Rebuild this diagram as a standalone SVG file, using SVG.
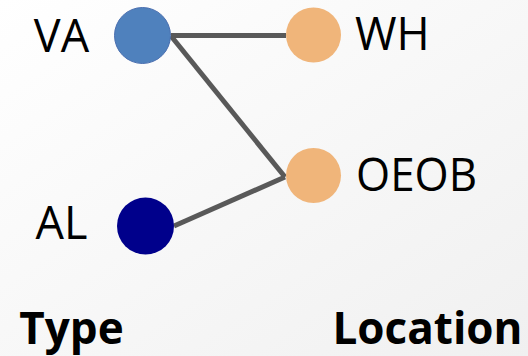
<svg xmlns="http://www.w3.org/2000/svg" width="528" height="356" viewBox="0 0 528 356">
  <defs>
    <linearGradient id="bg" x1="0" y1="0" x2="1" y2="1">
      <stop offset="0" stop-color="#ffffff"/>
      <stop offset="1" stop-color="#f0f0f0"/>
    </linearGradient>
    <style>
      .edge { stroke: #595959; stroke-width: 5; fill: none; stroke-linecap: butt; }
      .label { font-family: "Open Sans", "Liberation Sans", sans-serif; font-size: 45px; fill: #000; }
      .title { font-family: "Open Sans", "Liberation Sans", sans-serif; font-size: 44px; font-weight: bold; fill: #000; }
      .type { fill: #4f81bd; stroke: #4a6fb0; stroke-width: 1; }
      .type2 { fill: #00008b; }
      .loc { fill: #f0b57a; }
    </style>
  </defs>
  <rect width="528" height="356" fill="url(#bg)"/>

  <!-- links between types and locations -->
  <g id="connectors">
    <line class="edge" x1="171" y1="35.5" x2="286" y2="35.5"/>
    <line class="edge" x1="171" y1="36" x2="285" y2="177"/>
    <line class="edge" x1="174" y1="226" x2="285" y2="177"/>
  </g>

  <g id="node-va">
    <circle class="type" cx="142.5" cy="35.5" r="28"/>
    <text class="label" x="61.5" y="52" text-anchor="middle">VA</text>
  </g>
  <g id="node-al">
    <circle class="type2" cx="145.5" cy="226" r="28.5"/>
    <text class="label" x="61.5" y="239" text-anchor="middle">AL</text>
  </g>
  <g id="node-wh">
    <circle class="loc" cx="313.5" cy="35" r="27.5"/>
    <text class="label" x="355" y="50">WH</text>
  </g>
  <g id="node-oeob">
    <circle class="loc" cx="313.5" cy="175.5" r="27.5"/>
    <text class="label" x="356" y="191" textLength="121" lengthAdjust="spacingAndGlyphs">OEOB</text>
  </g>

  <g id="titles">
    <text class="title" x="71.5" y="344" text-anchor="middle">Type</text>
    <text class="title" x="427.5" y="344" text-anchor="middle">Location</text>
  </g>
</svg>
